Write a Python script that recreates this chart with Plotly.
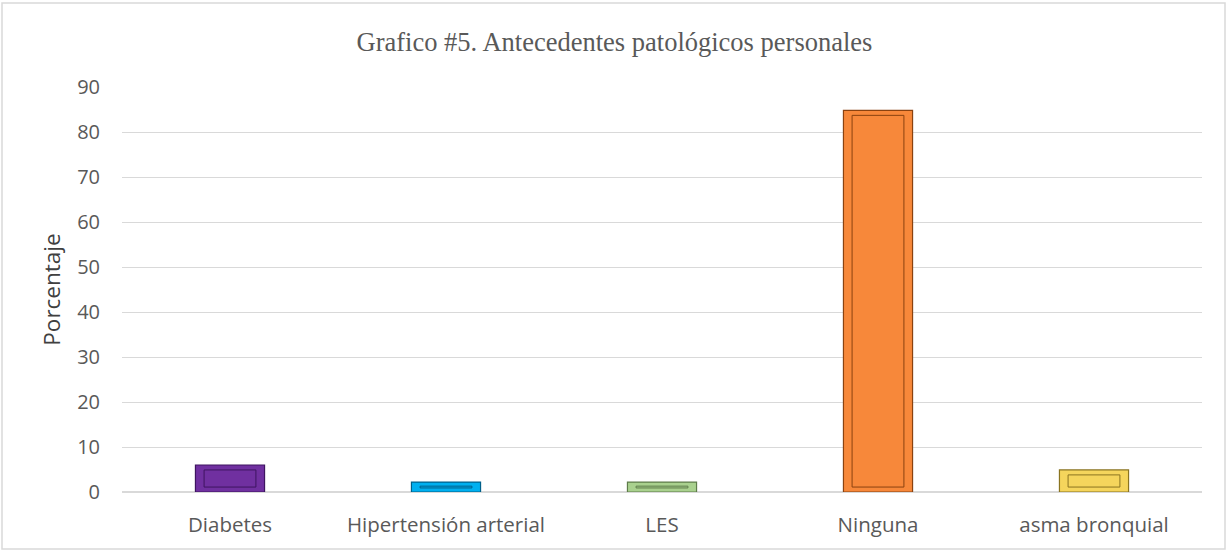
import plotly.graph_objects as go

categories = ["Diabetes", "Hipertensión arterial", "LES", "Ninguna", "asma bronquial"]
values = [6.0, 2.2, 2.2, 84.8, 4.9]
colors = ["#7030A0", "#00B0F0", "#A9D18E", "#F7883A", "#F5D55C"]
edge_colors = ["#3E1560", "#00608A", "#5E7C4A", "#8A4210", "#8A7420"]
title_text = "Grafico #5. Antecedentes patológicos personales"
y_title = "Porcentaje"
y_ticks = [0, 10, 20, 30, 40, 50, 60, 70, 80, 90]

inset = 1.1  # bevel inset in axis units (decorative)

fig = go.Figure()
fig.add_trace(go.Bar(
    x=categories, y=values, width=0.32,
    marker=dict(color=colors, line=dict(color=edge_colors, width=1.2)),
    hoverinfo="x+y", showlegend=False,
))
inner_base = [min(inset, v / 2 - 0.2) for v in values]
inner_h = [max(v - 2 * b, 0.4) for v, b in zip(values, inner_base)]
fig.add_trace(go.Bar(
    x=categories, y=inner_h, base=inner_base, width=0.24,
    marker=dict(color=colors, line=dict(color=edge_colors, width=1)),
    hoverinfo="skip", showlegend=False,
))

fig.update_layout(
    width=1229, height=552,
    barmode="overlay",
    paper_bgcolor="white", plot_bgcolor="white",
    margin=dict(l=122, r=27, t=87, b=60),
    title=dict(text=title_text, x=0.5, xanchor="center", y=1 - 42 / 552, yanchor="middle",
               font=dict(family="Liberation Serif", size=26.5, color="#595959")),
    xaxis=dict(showgrid=False, showline=False, ticks="", ticklabelstandoff=18,
               tickfont=dict(family="Open Sans", size=20.5, color="#595959")),
    yaxis=dict(range=[0, 90], tickvals=y_ticks, showgrid=True, gridcolor="#D9D9D9", gridwidth=1,
               zeroline=True, zerolinecolor="#D9D9D9", zerolinewidth=1.5, showline=False, ticks="",
               ticklabelstandoff=21,
               tickfont=dict(family="Open Sans", size=20, color="#595959"),
               title=dict(text=y_title, font=dict(family="Open Sans", size=22.5, color="#404040"), standoff=10)),
    shapes=[dict(type="rect", xref="paper", yref="paper",
                 x0=-(122 - 2) / 1080, x1=1 + (25 - 2) / 1080,
                 y0=-(60 - 3) / 405, y1=1 + (87 - 3) / 405,
                 line=dict(color="#D9D9D9", width=1.5), fillcolor="rgba(0,0,0,0)", layer="below")],
)

fig.write_html("out.html", config={"displayModeBar": False},
               post_script="document.body.style.margin='0';document.body.style.overflow='hidden';")
